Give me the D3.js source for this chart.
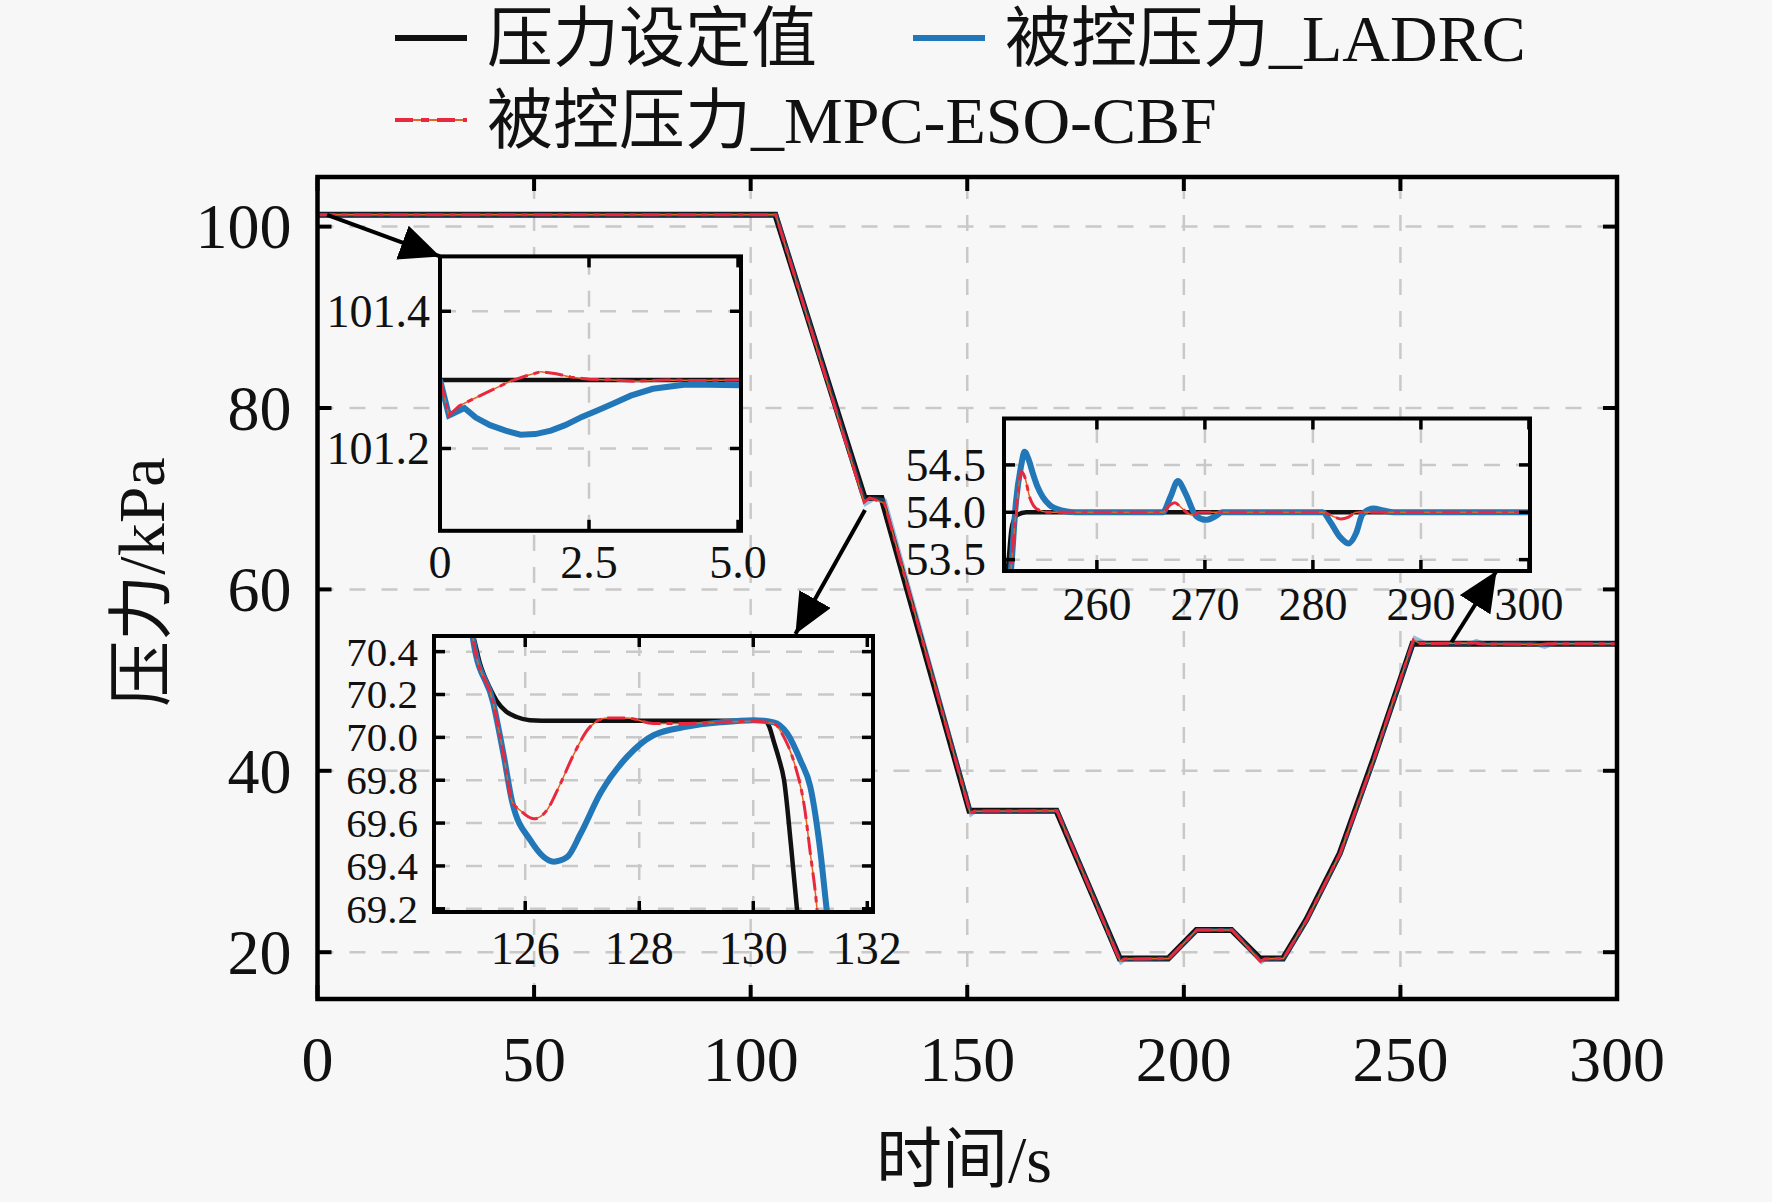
<!DOCTYPE html>
<html>
<head>
<meta charset="utf-8">
<script src="https://cdn.jsdelivr.net/npm/d3@7"></script>
<style>
  body { margin: 0; background: #f7f7f7; }
  text { fill: #111; font-family: "Liberation Serif", "Noto Sans CJK SC", serif; }
</style>
</head>
<body>
<svg id="chart" width="1772" height="1202"></svg>
<script>
// legend / axis labels
const seriesNames = ["压力设定值", "被控压力_LADRC", "被控压力_MPC-ESO-CBF"];
const xTitle = "时间/s";
const yTitle = "压力/kPa";

// main chart (0-300 s)
const mainXTicks = [0, 50, 100, 150, 200, 250, 300];
const mainYTicks = [20, 40, 60, 80, 100];
const mainSetT = [0, 105.7, 126.3, 130.2, 150.5, 170.6, 185.2, 196.4, 202.9, 211.0, 217.6, 222.9, 228.3, 236.0, 243.7, 252.8, 300];
const mainSetV = [101.3, 101.3, 70.08, 70.08, 35.6, 35.6, 19.3, 19.3, 22.45, 22.45, 19.3, 19.3, 23.6, 30.9, 41.2, 54.0, 54.0];
const mainLadrcT = [0, 105.9, 126.5, 128.5, 131.0, 150.9, 151.8, 170.8, 185.5, 186.4, 196.6, 203.1, 211.2, 217.9, 218.8, 223.1, 228.5, 236.2, 243.9, 253.3, 256.0, 266.1, 267.5, 270.1, 272.0, 281.0, 283.3, 285.6, 300];
const mainLadrcV = [101.3, 101.3, 69.42, 70.0, 69.8, 35.2, 35.5, 35.6, 18.9, 19.2, 19.3, 22.45, 22.45, 18.9, 19.2, 19.3, 23.6, 30.9, 41.2, 54.64, 54.02, 54.0, 54.33, 53.92, 54.0, 54.0, 53.67, 54.04, 54.0];
const mainMpcT = [0, 105.8, 126.2, 127.5, 130.9, 150.7, 151.6, 170.7, 185.3, 186.2, 196.5, 203.0, 211.1, 217.7, 218.6, 223.0, 228.4, 236.1, 243.8, 253.0, 254.5, 267.2, 268.3, 282.6, 284.0, 300];
const mainMpcV = [101.3, 101.3, 69.62, 70.09, 69.5, 35.3, 35.55, 35.6, 19.0, 19.25, 19.3, 22.45, 22.45, 19.0, 19.25, 19.3, 23.6, 30.9, 41.2, 54.43, 54.03, 54.1, 54.0, 53.93, 54.0, 54.0];

// inset 1 (0-5 s)
const in1XTicks = [0, 2.5, 5.0];
const in1XLabels = ["0", "2.5", "5.0"];
const in1YTicks = [101.2, 101.4];
const in1SetT = [0, 5.05];
const in1SetV = [101.3, 101.3];
const in1LadrcT = [0, 0.03, 0.15, 0.41, 0.6, 0.84, 1.1, 1.35, 1.6, 1.86, 2.1, 2.38, 2.6, 2.89, 3.2, 3.57, 4.09, 4.5, 5.05];
const in1LadrcV = [101.3, 101.29, 101.248, 101.259, 101.245, 101.234, 101.226, 101.22, 101.221, 101.226, 101.234, 101.246, 101.254, 101.265, 101.277, 101.287, 101.293, 101.293, 101.292];
const in1MpcT = [0, 0.03, 0.15, 0.32, 0.6, 0.84, 1.18, 1.45, 1.69, 1.95, 2.2, 2.5, 2.88, 3.3, 3.8, 4.3, 5.05];
const in1MpcV = [101.3, 101.29, 101.248, 101.262, 101.274, 101.284, 101.298, 101.306, 101.312, 101.309, 101.304, 101.301, 101.3, 101.298, 101.3, 101.299, 101.3];

// inset 2 (124-132 s)
const in2XTicks = [126, 128, 130, 132];
const in2YTicks = [69.2, 69.4, 69.6, 69.8, 70.0, 70.2, 70.4];
const in2SetT = [124.9, 125.09, 125.2, 125.38, 125.5, 125.67, 125.85, 126.08, 126.5, 130.19, 130.28, 130.36, 130.45, 130.54, 130.66, 130.77, 130.85];
const in2SetV = [70.6, 70.47, 70.35, 70.23, 70.17, 70.12, 70.095, 70.08, 70.077, 70.077, 70.05, 69.98, 69.9, 69.8, 69.5, 69.19, 68.95];
const in2LadrcT = [124.9, 125.09, 125.44, 125.62, 125.77, 126.09, 126.5, 126.73, 126.97, 127.32, 127.79, 128.25, 128.84, 129.43, 130.01, 130.36, 130.59, 130.83, 131.0, 131.18, 131.29, 131.35];
const in2LadrcV = [70.95, 70.45, 70.16, 69.92, 69.7, 69.52, 69.42, 69.44, 69.55, 69.74, 69.91, 70.01, 70.05, 70.07, 70.08, 70.07, 70.02, 69.89, 69.77, 69.46, 69.19, 69.05];
const in2MpcT = [124.9, 125.09, 125.44, 125.62, 125.77, 125.91, 126.15, 126.38, 126.61, 126.85, 127.14, 127.44, 127.79, 128.25, 128.84, 130.01, 130.36, 130.54, 130.72, 130.9, 131.0, 131.12, 131.16];
const in2MpcV = [70.95, 70.45, 70.16, 69.92, 69.7, 69.66, 69.62, 69.66, 69.78, 69.92, 70.05, 70.09, 70.09, 70.065, 70.065, 70.075, 70.065, 70.0, 69.88, 69.67, 69.46, 69.19, 69.05];

// inset 3 (252-300 s)
const in3XTicks = [260, 270, 280, 290, 300];
const in3YTicks = [53.5, 54.0, 54.5];
const in3YLabels = ["53.5", "54.0", "54.5"];
const in3SetT = [251.4, 251.74, 252.09, 252.35, 252.6, 253.46, 300.1];
const in3SetV = [53.2, 53.39, 53.82, 53.93, 53.97, 54.0, 54.0];
const in3LadrcT = [251.9, 252.09, 252.5, 253.0, 253.3, 253.7, 254.1, 254.5, 255.0, 255.6, 256.7, 258, 266.1, 266.8, 267.5, 268.2, 269.2, 270.1, 271.0, 271.6, 280.9, 281.6, 282.5, 283.3, 284.0, 284.6, 285.6, 286.5, 287.5, 300.1];
const in3LadrcV = [53.2, 53.45, 54.1, 54.5, 54.64, 54.55, 54.4, 54.27, 54.16, 54.08, 54.02, 54.0, 54.0, 54.16, 54.33, 54.2, 53.96, 53.92, 53.96, 54.0, 54.0, 53.9, 53.74, 53.67, 53.78, 53.98, 54.04, 54.02, 54.0, 54.0];
const in3MpcT = [251.9, 252.09, 252.6, 253.0, 253.3, 253.8, 254.5, 255.5, 266.1, 266.7, 267.2, 267.8, 268.3, 268.8, 269.5, 280.9, 281.8, 282.6, 283.3, 284.0, 300.1];
const in3MpcV = [53.2, 53.45, 54.1, 54.43, 54.38, 54.15, 54.03, 54.0, 54.0, 54.07, 54.1, 54.05, 54.0, 53.97, 54.0, 54.0, 53.96, 53.93, 53.95, 54.0, 54.0];

const colBlack = "#111111", colBlue = "#2277b8", colRed = "#e8283e", colOrange = "#e0651e";
const gridCol = "#c9c9c9";

const svg = d3.select("#chart");
svg.append("rect").attr("width", 1772).attr("height", 1202).attr("fill", "#f7f7f7");

// arrow head marker
svg.append("defs").append("marker")
    .attr("id", "arrowhead")
    .attr("markerUnits", "userSpaceOnUse")
    .attr("viewBox", "0 0 40 36")
    .attr("refX", 40).attr("refY", 18)
    .attr("markerWidth", 40).attr("markerHeight", 36)
    .attr("orient", "auto")
    .append("path").attr("d", "M0,0 L40,18 L0,36 Z").attr("fill", "#000");

let clipCount = 0;

// draws one framed panel: background, grid, series, border, inward ticks, labels
function panel(x, y, o) {
    let g = svg.append("g");
    let [x0, x1] = x.range(), [y0, y1] = y.range();
    let id = "clip" + (clipCount++);
    g.append("clipPath").attr("id", id).append("rect")
        .attr("x", x0).attr("y", y1).attr("width", x1 - x0).attr("height", y0 - y1);

    g.append("rect").attr("x", x0).attr("y", y1).attr("width", x1 - x0).attr("height", y0 - y1)
        .attr("fill", "#f7f7f7");

    // dashed grid
    g.append("g").selectAll("line").data(o.xGrid).enter().append("line")
        .attr("x1", d => x(d)).attr("x2", d => x(d)).attr("y1", y0).attr("y2", y1)
        .attr("stroke", gridCol).attr("stroke-width", 2.5).attr("stroke-dasharray", "16,16");
    g.append("g").selectAll("line").data(o.yGrid).enter().append("line")
        .attr("y1", d => y(d)).attr("y2", d => y(d)).attr("x1", x0).attr("x2", x1)
        .attr("stroke", gridCol).attr("stroke-width", 2.5).attr("stroke-dasharray", "16,16");

    let line = d3.line().x(d => x(d[0])).y(d => y(d[1])).curve(o.curve || d3.curveLinear);
    let lines = g.append("g").attr("clip-path", "url(#" + id + ")");
    lines.append("path").datum(d3.zip(o.setT, o.setV)).attr("d", line)
        .attr("fill", "none").attr("stroke", colBlack).attr("stroke-width", o.main ? 6 : 4.5);
    lines.append("path").datum(d3.zip(o.ladT, o.ladV)).attr("d", line)
        .attr("fill", "none").attr("stroke", colBlue).attr("stroke-width", o.main ? 4 : 6)
        .attr("stroke-opacity", o.main ? 0.45 : 1);
    lines.append("path").datum(d3.zip(o.mpcT, o.mpcV)).attr("d", line)
        .attr("fill", "none").attr("stroke", colOrange).attr("stroke-width", 1.5);
    lines.append("path").datum(d3.zip(o.mpcT, o.mpcV)).attr("d", line)
        .attr("fill", "none").attr("stroke", colRed).attr("stroke-width", 3)
        .attr("stroke-dasharray", "18,6,6,6");

    // border
    g.append("rect").attr("x", x0).attr("y", y1).attr("width", x1 - x0).attr("height", y0 - y1)
        .attr("fill", "none").attr("stroke", "#000").attr("stroke-width", o.main ? 4.5 : 4);

    // inward ticks on all four sides
    let tl = o.main ? 14 : 11;
    let tk = g.append("g").attr("stroke", "#000").attr("stroke-width", o.main ? 4 : 3.5);
    o.xTicks.forEach(t => {
        tk.append("line").attr("x1", x(t)).attr("x2", x(t)).attr("y1", y0).attr("y2", y0 - tl);
        tk.append("line").attr("x1", x(t)).attr("x2", x(t)).attr("y1", y1).attr("y2", y1 + tl);
    });
    o.yTicks.forEach(t => {
        tk.append("line").attr("y1", y(t)).attr("y2", y(t)).attr("x1", x0).attr("x2", x0 + tl);
        tk.append("line").attr("y1", y(t)).attr("y2", y(t)).attr("x1", x1).attr("x2", x1 - tl);
    });

    // tick labels
    g.append("g").selectAll("text").data(o.xTicks).enter().append("text")
        .attr("x", d => x(d)).attr("y", y0 + o.xLabDy)
        .attr("text-anchor", "middle").attr("font-size", o.fs)
        .text((d, i) => o.xLabels ? o.xLabels[i] : d);
    g.append("g").selectAll("text").data(o.yTicks).enter().append("text")
        .attr("x", x0 - o.yLabDx).attr("y", d => y(d)).attr("dy", "0.34em")
        .attr("text-anchor", "end").attr("font-size", o.yfs || o.fs)
        .text((d, i) => o.yLabels ? o.yLabels[i] : (o.main ? d : d.toFixed(1)));
    return g;
}

// main panel
const xMain = d3.scaleLinear().domain([0, 300]).range([317.5, 1617]);
const yMain = d3.scaleLinear().domain([14.84, 105.47]).range([999, 177]);
panel(xMain, yMain, {
    main: true, fs: 64, xLabDy: 82, yLabDx: 26,
    xTicks: mainXTicks, yTicks: mainYTicks,
    xGrid: mainXTicks.slice(1, -1), yGrid: mainYTicks,
    setT: mainSetT, setV: mainSetV, ladT: mainLadrcT, ladV: mainLadrcV, mpcT: mainMpcT, mpcV: mainMpcV
});

// insets
const x1s = d3.scaleLinear().domain([0, 5.05]).range([440, 741]);
const y1s = d3.scaleLinear().domain([101.08, 101.48]).range([530.8, 256.4]);
const x2s = d3.scaleLinear().domain([124.4, 132.1]).range([434, 873]);
const y2s = d3.scaleLinear().domain([69.185, 70.473]).range([912, 636]);
const x3s = d3.scaleLinear().domain([251.4, 300.1]).range([1004, 1530]);
const y3s = d3.scaleLinear().domain([53.38, 54.99]).range([571, 418.5]);

// arrows from the main curve to each inset
function arrow(xa, ya, xb, yb) {
    svg.append("line").attr("x1", xa).attr("y1", ya).attr("x2", xb).attr("y2", yb)
        .attr("stroke", "#000").attr("stroke-width", 4).attr("marker-end", "url(#arrowhead)");
}
arrow(xMain(2.2), yMain(101.3), x1s(0), y1s.range()[1]);
arrow(xMain(126.4), yMain(68.75), x2s(130.74), y2s.range()[1] - 2);
arrow(xMain(261.8), yMain(54.2), x3s(297.0), y3s.range()[0]);

panel(x1s, y1s, {
    fs: 46, xLabDy: 47, yLabDx: 10,
    xTicks: in1XTicks, xLabels: in1XLabels, yTicks: in1YTicks,
    xGrid: [2.5], yGrid: in1YTicks,
    setT: in1SetT, setV: in1SetV, ladT: in1LadrcT, ladV: in1LadrcV, mpcT: in1MpcT, mpcV: in1MpcV
});
panel(x2s, y2s, {
    fs: 46, yfs: 41, xLabDy: 52, yLabDx: 16, curve: d3.curveMonotoneX,
    xTicks: in2XTicks, yTicks: in2YTicks,
    xGrid: [126, 128, 130], yGrid: in2YTicks,
    setT: in2SetT, setV: in2SetV, ladT: in2LadrcT, ladV: in2LadrcV, mpcT: in2MpcT, mpcV: in2MpcV
});
panel(x3s, y3s, {
    fs: 46, xLabDy: 49, yLabDx: 18, curve: d3.curveMonotoneX,
    xTicks: in3XTicks, yTicks: in3YTicks, yLabels: in3YLabels,
    xGrid: [260, 270, 280, 290], yGrid: [53.5, 54.5],
    setT: in3SetT, setV: in3SetV, ladT: in3LadrcT, ladV: in3LadrcV, mpcT: in3MpcT, mpcV: in3MpcV
});

// axis titles
svg.append("text").attr("x", 964).attr("y", 1182).attr("text-anchor", "middle")
    .attr("font-size", 66).text(xTitle);
svg.append("text").attr("transform", "translate(164,582) rotate(-90)").attr("text-anchor", "middle")
    .attr("font-size", 66).text(yTitle);

// legend
const legend = svg.append("g");
const legendPos = [[395, 38], [913, 38], [395, 120]];
seriesNames.forEach((name, i) => {
    let [lx, ly] = legendPos[i];
    if (i === 2) {
        legend.append("line").attr("x1", lx).attr("x2", lx + 72).attr("y1", ly).attr("y2", ly)
            .attr("stroke", colOrange).attr("stroke-width", 2);
        legend.append("line").attr("x1", lx).attr("x2", lx + 72).attr("y1", ly).attr("y2", ly)
            .attr("stroke", colRed).attr("stroke-width", 4).attr("stroke-dasharray", "18,8,8,8");
    } else {
        legend.append("line").attr("x1", lx).attr("x2", lx + 72).attr("y1", ly).attr("y2", ly)
            .attr("stroke", i === 0 ? colBlack : colBlue).attr("stroke-width", 6);
    }
    legend.append("text").attr("x", lx + 92).attr("y", ly + 23).attr("font-size", 66).text(name);
});
</script>
</body>
</html>
